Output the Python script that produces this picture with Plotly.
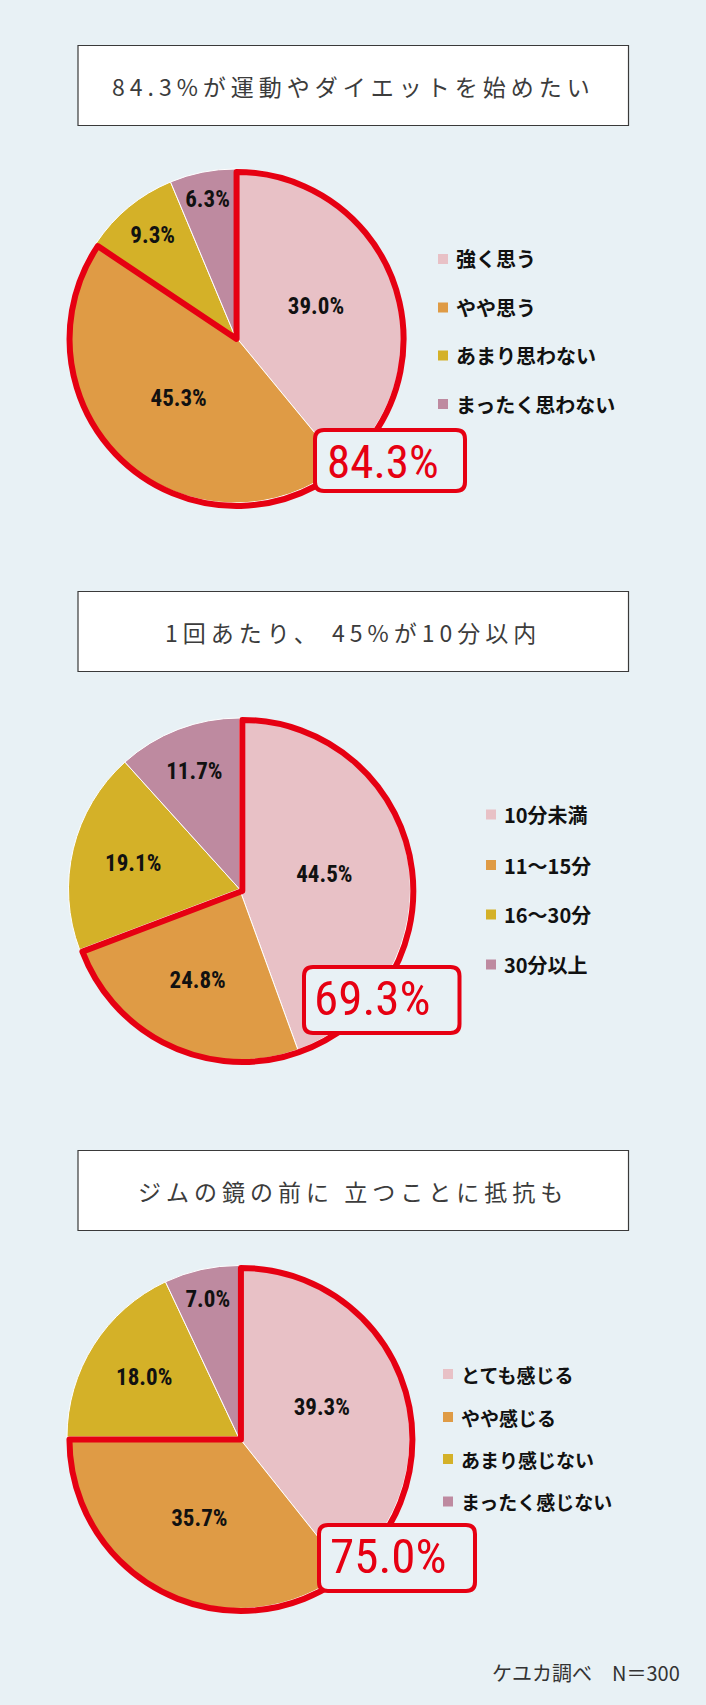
import plotly.graph_objects as go

# ---------------- data ----------------
titles = [
    "84.3%が運動やダイエットを始めたい",
    "1回あたり、 45%が10分以内",
    "ジムの鏡の前に 立つことに抵抗も",
]
labels1 = ["強く思う", "やや思う", "あまり思わない", "まったく思わない"]
values1 = [39.0, 45.3, 9.3, 6.3]
labels2 = ["10分未満", "11～15分", "16～30分", "30分以上"]
values2 = [44.5, 24.8, 19.1, 11.7]
labels3 = ["とても感じる", "やや感じる", "あまり感じない", "まったく感じない"]
values3 = [39.3, 35.7, 18.0, 7.0]
highlight_count = 2          # first two slices are outlined / summed
source_note = "ケユカ調べ　N＝300"

# ---------------- style ----------------
W, H = 706, 1705
BG = "#e8f1f5"
RED = "#e60012"
COLORS = ["#e8c1c6", "#df9b45", "#d4b128", "#be8aa0"]
JP = "Noto Sans CJK JP, Noto Sans, sans-serif"
NARROW = "Roboto Condensed, Roboto, sans-serif"
LABEL_SIZE = 23


def px(x):
    return x / W


def py(y):
    return 1 - y / H


layout_cfg = [
    dict(box=(78, 45.5, 628.5, 125.5), center=(235, 336), r=167,
         leg_x=438, leg_y=[259, 307.5, 355.5, 404], leg_font=20,
         call=(315, 430, 465, 491), call_txt=(382.5, 461), call_font=47),
    dict(box=(78, 591.5, 628.5, 671.5), center=(239.5, 889), r=171,
         leg_x=486, leg_y=[814.5, 865, 914.5, 964.5], leg_font=20,
         call=(304, 967, 459.5, 1033), call_txt=(373, 998), call_font=49),
    dict(box=(78, 1150.5, 628.5, 1230.5), center=(238.5, 1437), r=171.5,
         leg_x=443, leg_y=[1374, 1417, 1459, 1501.5], leg_font=19,
         call=(319, 1525, 475, 1591), call_txt=(388.5, 1556), call_font=49),
]

data_sets = [(labels1, values1), (labels2, values2), (labels3, values3)]
PULL = 0.02

fig = go.Figure()
shapes = []
annotations = []


def rounded_path(x0, y0, x1, y1, rr):
    pts = [
        ("M", [(x0 + rr, y0)]),
        ("L", [(x1 - rr, y0)]),
        ("Q", [(x1, y0), (x1, y0 + rr)]),
        ("L", [(x1, y1 - rr)]),
        ("Q", [(x1, y1), (x1 - rr, y1)]),
        ("L", [(x0 + rr, y1)]),
        ("Q", [(x0, y1), (x0, y1 - rr)]),
        ("L", [(x0, y0 + rr)]),
        ("Q", [(x0, y0), (x0 + rr, y0)]),
    ]
    s = ""
    for cmd, ps in pts:
        s += cmd + " " + " ".join(f"{px(a):.5f},{py(b):.5f}" for a, b in ps) + " "
    return s + "Z"


for i, ((labels, values), cfg, title) in enumerate(zip(data_sets, layout_cfg, titles)):
    cx, cy = cfg["center"]
    r = cfg["r"]
    dom = dict(x=[px(cx - r), px(cx + r)], y=[py(cy + r), py(cy - r)])
    R2 = r * (1 + PULL)
    dom2 = dict(x=[px(cx - R2), px(cx + R2)], y=[py(cy + R2), py(cy - R2)])

    # main pie
    fig.add_trace(go.Pie(
        labels=labels, values=values, sort=False, direction="clockwise", rotation=0,
        domain=dom, marker=dict(colors=COLORS, line=dict(color="white", width=1)),
        texttemplate="%{value:.1f}%", textposition="inside",
        insidetextorientation="horizontal",
        textfont=dict(family=NARROW, size=LABEL_SIZE, color="#111111", weight="bold"),
        showlegend=False, hoverinfo="label+value",
    ))

    # red outline around highlighted group
    hi = round(sum(values[:highlight_count]), 1)
    rest = round(sum(values[highlight_count:]), 1)
    fig.add_trace(go.Pie(
        values=[hi, rest], labels=["highlight", "other"], sort=False,
        direction="clockwise", rotation=0, domain=dom2, pull=[PULL, 0],
        marker=dict(colors=["rgba(0,0,0,0)", "rgba(0,0,0,0)"],
                    line=dict(color=[RED, "rgba(0,0,0,0)"], width=[6, 0])),
        textinfo="none", hoverinfo="skip", showlegend=False,
    ))

    # title box
    bx0, by0, bx1, by1 = cfg["box"]
    shapes.append(dict(type="rect", xref="paper", yref="paper",
                       x0=px(bx0), x1=px(bx1), y0=py(by1), y1=py(by0),
                       fillcolor="white", line=dict(color="#3a3a3a", width=1.2),
                       layer="below"))
    annotations.append(dict(
        xref="paper", yref="paper", x=px((bx0 + bx1) / 2), y=py((by0 + by1) / 2),
        xanchor="center", yanchor="middle", showarrow=False,
        text=f'<span style="letter-spacing:5px">{title}</span>',
        font=dict(family=JP, size=23, color="#3c3c3c")))

    # legend (manual)
    for j, lab in enumerate(labels):
        ly = cfg["leg_y"][j]
        lx = cfg["leg_x"]
        shapes.append(dict(type="rect", xref="paper", yref="paper",
                           x0=px(lx), x1=px(lx + 10), y0=py(ly + 5), y1=py(ly - 5),
                           fillcolor=COLORS[j], line=dict(width=0), layer="above"))
        annotations.append(dict(
            xref="paper", yref="paper", x=px(lx + 16), y=py(ly),
            xanchor="left", yanchor="middle", showarrow=False, text=f"<b>{lab}</b>",
            font=dict(family=JP, size=cfg["leg_font"], color="#111111")))

    # callout box with total
    c0, c1, c2, c3 = cfg["call"]
    shapes.append(dict(type="path", xref="paper", yref="paper",
                       path=rounded_path(c0, c1, c2, c3, 9),
                       fillcolor=BG, line=dict(color=RED, width=4), layer="above"))
    tx, ty = cfg["call_txt"]
    annotations.append(dict(
        xref="paper", yref="paper", x=px(tx), y=py(ty),
        xanchor="center", yanchor="middle", showarrow=False,
        text=f"{hi:.1f}%",
        font=dict(family=NARROW, size=cfg["call_font"], color=RED)))

annotations.append(dict(
    xref="paper", yref="paper", x=px(682), y=py(1672), xanchor="right", yanchor="middle",
    showarrow=False, text=source_note, font=dict(family=JP, size=20, color="#333333")))

fig.update_layout(
    width=W, height=H, margin=dict(l=0, r=0, t=0, b=0),
    paper_bgcolor=BG, plot_bgcolor=BG,
    shapes=shapes, annotations=annotations,
    uniformtext=dict(minsize=LABEL_SIZE, mode="show"),
)

fig.write_html("out.html")
